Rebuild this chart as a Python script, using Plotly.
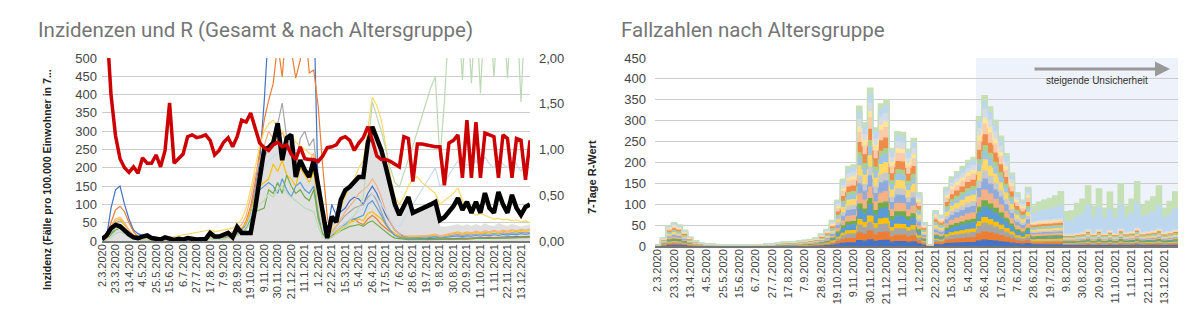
import plotly.graph_objects as go

# ---------------- data ----------------
week_labels = ["2.3.2020","23.3.2020","13.4.2020","4.5.2020","25.5.2020","15.6.2020","6.7.2020","27.7.2020",
               "17.8.2020","7.9.2020","28.9.2020","19.10.2020","9.11.2020","30.11.2020","21.12.2020","11.1.2021",
               "1.2.2021","22.2.2021","15.3.2021","5.4.2021","26.4.2021","17.5.2021","7.6.2021","28.6.2021",
               "19.7.2021","9.8.2021","30.8.2021","20.9.2021","11.10.2021","1.11.2021","22.11.2021","13.12.2021"]
n_weeks = 96
weeks = list(range(n_weeks))

# Left chart: total incidence (black), R value (red), grey area, age-group incidences
inc_total = [5,15,35,44,40,28,18,10,8,
             12,15,8,5,4,10,5,3,6,4,8,5,4,5,5,22,12,12,18,22,10,
             38,22,22,22,90,170,250,255,268,322,221,281,290,175,221,194,175,221,150,
             70,8,66,
             52,112,139,148,160,175,175,268,312,284,249,202,148,
             100,71,93,120,77,82,88,93,100,107,57,65,80,95,117,85,107,77,107,77,131,90,77,134,100,77,126,90,71,93,100]
inc_area = [5,15,35,44,40,28,18,10,8,
            12,15,8,5,4,10,5,3,6,4,8,5,4,5,5,22,12,12,18,22,10,
            38,22,22,22,90,170,250,255,268,322,221,281,290,175,221,194,175,221,150,
            70,8,66,
            52,112,139,148,160,175,175,268,312,284,249,202,148,
            100,71,93,120,77,82,88,93,100,107,40,38,40,42,45,40,45,40,45,40,48,42,40,48,44,40,46,42,38,42,44]
r_value = [4.0,2.4,1.6,1.15,0.9,0.8,0.75,0.81,0.74,
           0.91,0.85,0.85,0.94,0.81,0.99,1.51,0.85,0.9,0.95,1.14,1.16,1.13,1.14,1.16,1.1,0.94,0.99,1.08,1.13,1.03,
           1.14,1.32,1.3,1.4,1.25,1.07,1.02,0.99,1.05,1.08,1.03,1.05,0.95,0.89,1.03,0.9,0.89,0.89,0.87,
           0.93,1.02,1.03,
           1.05,1.12,1.14,1.1,0.99,1.07,1.13,1.25,1.1,0.93,0.89,0.89,0.87,
           0.84,0.81,1.14,1.12,0.65,1.06,1.06,1.05,1.04,1.03,1.03,0.61,1.07,1.1,1.16,0.69,1.32,0.69,1.3,0.69,1.18,1.16,1.14,0.69,1.16,1.12,0.69,1.12,1.1,0.67,1.1]

inc_a = [0,10,90,140,150,100,60,30,20,
         15,10,8,5,4,3,3,2,2,3,3,2,2,3,4,6,5,6,8,10,12,
         20,30,45,80,140,220,380,700,800,850,900,800,750,850,700,800,750,650,120,
         30,20,100,
         70,80,90,110,120,115,100,130,150,130,100,70,50,
         30,20,12,10,8,8,7,6,6,6,5,5,6,6,7,8,7,8,9,8,9,10,9,10,11,10,11,12,11,12,13]
inc_b = [0,10,50,85,95,80,50,25,12,
         10,8,6,5,4,3,3,3,3,4,4,3,3,4,5,8,7,8,10,12,14,
         22,32,55,95,160,250,330,385,430,540,448,600,520,445,494,600,459,467,366,
         202,66,10,
         30,40,50,55,60,50,45,60,70,60,45,35,25,
         18,12,8,6,5,5,5,4,4,4,4,4,5,5,6,6,6,7,7,7,8,8,8,9,9,9,10,10,10,11,11]
inc_c = [0,5,30,50,55,45,30,15,8,
         6,5,4,3,3,2,2,2,2,3,3,2,2,3,4,6,5,6,7,9,12,
         20,28,45,80,140,200,230,250,280,320,377,280,250,200,280,300,260,280,150,
         40,5,25,
         40,55,70,80,90,95,100,120,130,110,80,50,30,
         18,12,10,10,9,10,11,10,12,14,10,11,14,16,18,15,18,16,19,17,20,18,21,19,22,20,23,21,24,22,24]
inc_d = [0,5,35,55,60,45,28,14,7,
         6,5,5,4,3,3,3,3,4,5,5,4,4,5,8,12,10,12,14,16,18,
         28,36,50,80,120,150,160,170,210,190,220,180,170,150,200,180,160,190,80,
         20,5,15,
         25,35,40,50,55,60,55,75,80,70,60,45,30,
         20,12,10,10,12,12,14,14,15,16,14,14,18,20,22,18,22,20,24,20,24,22,26,22,27,24,28,25,29,26,30]
inc_e = [0,3,20,40,45,35,22,10,5,
         4,3,3,2,2,2,2,2,2,2,2,2,2,3,4,6,5,6,7,9,11,
         18,25,40,70,110,140,150,160,150,130,170,140,120,150,160,140,130,150,70,
         20,5,20,
         30,40,45,60,60,65,70,100,110,90,70,45,28,
         15,10,8,8,7,8,9,8,10,11,8,9,11,13,14,12,14,13,15,13,16,14,17,15,18,16,19,17,20,18,20]
inc_f = [0,3,18,30,35,28,18,8,4,
         3,3,2,2,2,2,2,2,2,2,2,2,2,2,3,5,4,5,6,8,10,
         16,22,35,60,80,85,90,140,130,160,130,180,150,130,140,120,110,140,60,
         20,5,15,
         20,28,35,40,42,45,40,50,55,45,35,25,15,
         8,6,5,4,4,4,4,4,4,5,4,5,5,6,6,5,6,6,7,6,7,7,8,7,8,8,9,8,9,9,10]
inc_g = [0,5,40,60,65,50,30,15,8,
         7,6,5,4,4,3,3,3,4,5,5,4,5,6,8,12,10,14,18,22,25,
         35,45,70,120,180,220,260,300,280,270,300,260,250,240,250,230,220,240,110,
         30,5,25,
         40,60,80,95,110,130,140,150,170,150,120,80,50,
         30,20,15,14,14,15,16,15,17,19,14,16,19,22,25,21,25,22,27,23,28,25,29,26,30,27,31,28,32,29,33]
inc_h = [0,3,25,40,45,35,22,10,5,
         5,5,6,6,7,8,10,12,14,16,18,20,22,24,28,30,25,28,30,32,35,
         45,60,90,140,200,260,300,320,330,310,300,280,290,270,260,250,240,230,120,
         40,10,30,
         60,90,120,150,170,200,220,300,393,370,330,260,180,
         120,100,120,150,170,175,160,150,140,130,100,110,120,130,145,110,90,80,70,75,70,65,60,62,58,60,55,58,52,55,50]
inc_i = [0,2,10,20,25,20,12,6,3,
         3,3,2,2,2,2,2,2,2,2,2,2,2,3,4,5,4,5,6,8,10,
         15,20,30,50,80,100,110,130,120,140,150,130,120,110,100,90,85,80,40,
         10,3,10,
         20,30,40,55,70,90,120,250,380,340,300,250,200,
         160,148,185,220,260,300,340,380,420,448,221,380,600,650,650,440,650,431,650,404,650,650,448,650,650,445,650,650,380,650,650]
inc_j = [0,2,12,22,25,20,12,6,3,
         3,3,2,2,2,2,2,2,2,2,2,2,2,3,4,5,4,5,6,8,10,
         15,25,40,70,110,150,200,220,230,240,250,240,230,250,240,230,220,210,100,
         30,5,20,
         30,40,50,60,70,80,90,110,130,120,100,80,60,
         45,40,60,80,100,120,140,160,180,200,150,160,180,200,220,190,210,200,220,200,230,210,200,230,210,200,230,210,190,220,230]

age_lines = [inc_a, inc_b, inc_c, inc_d, inc_e, inc_f, inc_g, inc_h, inc_j, inc_i]
line_colors = ["#4472C4", "#ED7D31", "#A5A5A5", "#FFC000", "#5B9BD5", "#70AD47",
               "#F4B183", "#FFD966", "#C9DBEE", "#BCD9B4"]

# Right chart: weekly case counts per age group (stacked, bottom to top)
g01 = [0.1,0.8,1.9,2.2,2,1.5,0.8,0.5,0.3,0.2,0.2,0.1,0.1,0.1,0.1,0.1,0.1,0.1,0.1,0.1,0.2,0.2,0.3,0.4,0.4,0.4,0.5,0.6,0.6,0.8,1.1,1.5,2.4,4.3,6.2,7.4,7.6,13,11.5,14.7,11,13.2,13.6,9.1,10.6,10.6,9,10,5,2.2,0.1,3.3,2.9,5.5,6.4,6.9,7.4,8,8.3,12,14,13,11.7,10.2,8.6,6.8,5,4.3,5.5,
       2.5,2.6,2.7,2.7,2.8,2.8,1.2,1.2,1.3,1.4,1.7,1.3,1.7,1.3,1.6,1.3,1.8,1.4,1.5,1.9,1.4,1.5,1.6,1.8,1.4,1.5,1.7]
g02 = [0.2,1.1,2.7,3.1,2.8,2.1,1.2,0.7,0.4,0.3,0.3,0.2,0.2,0.2,0.2,0.2,0.2,0.2,0.2,0.2,0.3,0.3,0.4,0.5,0.6,0.6,0.7,0.8,0.9,1.1,1.6,2.2,3.4,6.1,8.9,10.6,10.8,18.6,16.4,21,15.7,18.9,19.4,13,15.2,15.1,12.9,14.3,7.1,3.1,0.2,4.7,4.1,7.8,9.2,9.9,10.6,11.4,11.8,17.2,20,18.5,16.7,14.6,12.3,9.7,7.1,6.1,7.8,
       4.8,5,5.1,5.2,5.3,5.4,2.4,2.4,2.6,2.8,3.3,2.6,3.3,2.6,3.2,2.6,3.5,2.8,3,3.7,2.8,3,3.2,3.5,2.8,3,3.3]
g03 = [0.2,1.1,2.7,3.1,2.8,2.1,1.2,0.7,0.4,0.3,0.3,0.2,0.2,0.2,0.2,0.2,0.2,0.2,0.2,0.2,0.3,0.3,0.4,0.5,0.6,0.6,0.7,0.8,0.9,1.1,1.6,2.2,3.4,6.1,8.9,10.6,10.8,18.6,16.4,21,15.7,18.9,19.4,13,15.2,15.1,12.9,14.3,7.1,3.1,0.2,4.7,4.1,7.8,9.2,9.9,10.6,11.4,11.8,17.2,20,18.5,16.7,14.6,12.3,9.7,7.1,6.1,7.8,
       2.5,2.6,2.7,2.7,2.8,2.8,1.2,1.2,1.3,1.4,1.7,1.3,1.7,1.3,1.6,1.3,1.8,1.4,1.5,1.9,1.4,1.5,1.6,1.8,1.4,1.5,1.7]
g04 = [0.1,0.8,1.9,2.2,2,1.5,0.8,0.5,0.3,0.2,0.2,0.1,0.1,0.1,0.1,0.1,0.1,0.1,0.1,0.1,0.2,0.2,0.3,0.4,0.4,0.4,0.5,0.6,0.6,0.8,1.1,1.5,2.4,4.3,6.2,7.4,7.6,13,11.5,14.7,11,13.2,13.6,9.1,10.6,10.6,9,10,5,2.2,0.1,3.3,2.9,5.5,6.4,6.9,7.4,8,8.3,12,14,13,11.7,10.2,8.6,6.8,5,4.3,5.5,
       4.8,5,5.1,5.2,5.3,5.4,2.4,2.4,2.6,2.8,3.3,2.6,3.3,2.6,3.2,2.6,3.5,2.8,3,3.7,2.8,3,3.2,3.5,2.8,3,3.3]
g05 = [0.3,1.4,3.5,4,3.6,2.7,1.6,0.9,0.5,0.4,0.4,0.3,0.2,0.2,0.2,0.2,0.2,0.2,0.3,0.3,0.4,0.4,0.5,0.7,0.8,0.8,0.9,1,1.2,1.4,2.1,2.9,4.4,7.9,11.6,13.8,14,24.2,21.3,27.3,20.4,24.6,25.2,16.9,19.8,19.6,16.8,18.6,9.2,4,0.3,6.1,5.3,10.1,12,12.9,13.8,14.8,15.3,22.4,26,24,21.7,19,16,12.6,9.2,7.9,10.1,
       3.5,3.7,3.8,3.8,3.9,4,1.7,1.7,1.8,1.9,2.3,1.8,2.3,1.8,2.2,1.8,2.4,1.9,2,2.5,1.9,2,2.1,2.4,1.9,2.1,2.3]
g06 = [0.1,0.8,1.9,2.2,2,1.5,0.8,0.5,0.3,0.2,0.2,0.1,0.1,0.1,0.1,0.1,0.1,0.1,0.1,0.1,0.2,0.2,0.3,0.4,0.4,0.4,0.5,0.6,0.6,0.8,1.1,1.5,2.4,4.3,6.2,7.4,7.6,13,11.5,14.7,11,13.2,13.6,9.1,10.6,10.6,9,10,5,2.2,0.1,3.3,2.9,5.5,6.4,6.9,7.4,8,8.3,12,14,13,11.7,10.2,8.6,6.8,5,4.3,5.5,
       3.5,3.7,3.8,3.8,3.9,4,1.7,1.7,1.8,1.9,2.3,1.8,2.3,1.8,2.2,1.8,2.4,1.9,2,2.5,1.9,2,2.1,2.4,1.9,2.1,2.3]
g07 = [0.3,1.4,3.5,4,3.6,2.7,1.6,0.9,0.5,0.4,0.4,0.3,0.2,0.2,0.2,0.2,0.2,0.2,0.3,0.3,0.4,0.4,0.5,0.7,0.8,0.8,0.9,1,1.2,1.4,2.1,2.9,4.4,7.9,11.6,13.8,14,24.2,21.3,27.3,20.4,24.6,25.2,16.9,19.8,19.6,16.8,18.6,9.2,4,0.3,6.1,5.3,10.1,12,12.9,13.8,14.8,15.3,22.4,26,24,21.7,19,16,12.6,9.2,7.9,10.1,
       4.8,5,5.1,5.2,5.3,5.4,2.4,2.4,2.6,2.8,3.3,2.6,3.3,2.6,3.2,2.6,3.5,2.8,3,3.7,2.8,3,3.2,3.5,2.8,3,3.3]
g08 = [0.3,1.4,3.5,4,3.6,2.7,1.6,0.9,0.5,0.4,0.4,0.3,0.2,0.2,0.2,0.2,0.2,0.2,0.3,0.3,0.4,0.4,0.5,0.7,0.8,0.8,0.9,1,1.2,1.4,2.1,2.9,4.4,7.9,11.6,13.8,14,24.2,21.3,27.3,20.4,24.6,25.2,16.9,19.8,19.6,16.8,18.6,9.2,4,0.3,6.1,5.3,10.1,12,12.9,13.8,14.8,15.3,22.4,26,24,21.7,19,16,12.6,9.2,7.9,10.1,
       3.5,3.7,3.8,3.8,3.9,4,1.7,1.7,1.8,1.9,2.3,1.8,2.3,1.8,2.2,1.8,2.4,1.9,2,2.5,1.9,2,2.1,2.4,1.9,2.1,2.3]
g09 = [0.2,1.1,2.7,3.1,2.8,2.1,1.2,0.7,0.4,0.3,0.3,0.2,0.2,0.2,0.2,0.2,0.2,0.2,0.2,0.2,0.3,0.3,0.4,0.5,0.6,0.6,0.7,0.8,0.9,1.1,1.6,2.2,3.4,6.1,8.9,10.6,10.8,18.6,16.4,21,15.7,18.9,19.4,13,15.2,15.1,12.9,14.3,7.1,3.1,0.2,4.7,4.1,7.8,9.2,9.9,10.6,11.4,11.8,17.2,20,18.5,16.7,14.6,12.3,9.7,7.1,6.1,7.8,
       2.5,2.6,2.7,2.7,2.8,2.8,1.2,1.2,1.3,1.4,1.7,1.3,1.7,1.3,1.6,1.3,1.8,1.4,1.5,1.9,1.4,1.5,1.6,1.8,1.4,1.5,1.7]
g10 = [0.3,1.4,3.5,4,3.6,2.7,1.6,0.9,0.5,0.4,0.4,0.3,0.2,0.2,0.2,0.2,0.2,0.2,0.3,0.3,0.4,0.4,0.5,0.7,0.8,0.8,0.9,1,1.2,1.4,2.1,2.9,4.4,7.9,11.6,13.8,14,24.2,21.3,27.3,20.4,24.6,25.2,16.9,19.8,19.6,16.8,18.6,9.2,4,0.3,6.1,5.3,10.1,12,12.9,13.8,14.8,15.3,22.4,26,24,21.7,19,16,12.6,9.2,7.9,10.1,
       4.8,5,5.1,5.2,5.3,5.4,2.4,2.4,2.6,2.8,3.3,2.6,3.3,2.6,3.2,2.6,3.5,2.8,3,3.7,2.8,3,3.2,3.5,2.8,3,3.3]
g11 = [0.2,1.1,2.7,3.1,2.8,2.1,1.2,0.7,0.4,0.3,0.3,0.2,0.2,0.2,0.2,0.2,0.2,0.2,0.2,0.2,0.3,0.3,0.4,0.5,0.6,0.6,0.7,0.8,0.9,1.1,1.6,2.2,3.4,6.1,8.9,10.6,10.8,18.6,16.4,21,15.7,18.9,19.4,13,15.2,15.1,12.9,14.3,7.1,3.1,0.2,4.7,4.1,7.8,9.2,9.9,10.6,11.4,11.8,17.2,20,18.5,16.7,14.6,12.3,9.7,7.1,6.1,7.8,
       3.5,3.7,3.8,3.8,3.9,4,1.7,1.7,1.8,1.9,2.3,1.8,2.3,1.8,2.2,1.8,2.4,1.9,2,2.5,1.9,2,2.1,2.4,1.9,2.1,2.3]
g12 = [0.1,0.8,1.9,2.2,2,1.5,0.8,0.5,0.3,0.2,0.2,0.1,0.1,0.1,0.1,0.1,0.1,0.1,0.1,0.1,0.2,0.2,0.3,0.4,0.4,0.4,0.5,0.6,0.6,0.8,1.1,1.5,2.4,4.3,6.2,7.4,7.6,13,11.5,14.7,11,13.2,13.6,9.1,10.6,10.6,9,10,5,2.2,0.1,3.3,2.9,5.5,6.4,6.9,7.4,8,8.3,12,14,13,11.7,10.2,8.6,6.8,5,4.3,5.5,
       2.5,2.6,2.7,2.7,2.8,2.8,1.2,1.2,1.3,1.4,1.7,1.3,1.7,1.3,1.6,1.3,1.8,1.4,1.5,1.9,1.4,1.5,1.6,1.8,1.4,1.5,1.7]
g13 = [0.3,1.4,3.5,4,3.6,2.7,1.6,0.9,0.5,0.4,0.4,0.3,0.2,0.2,0.2,0.2,0.2,0.2,0.3,0.3,0.4,0.4,0.5,0.7,0.8,0.8,0.9,1,1.2,1.4,2.1,2.9,4.4,7.9,11.6,13.8,14,24.2,21.3,27.3,20.4,24.6,25.2,16.9,19.8,19.6,16.8,18.6,9.2,4,0.3,6.1,5.3,10.1,12,12.9,13.8,14.8,15.3,22.4,26,24,21.7,19,16,12.6,9.2,7.9,10.1,
       4.8,5,5.1,5.2,5.3,5.4,2.4,2.4,2.6,2.8,3.3,2.6,3.3,2.6,3.2,2.6,3.5,2.8,3,3.7,2.8,3,3.2,3.5,2.8,3,3.3]
g14 = [0.3,1.4,3.5,4,3.6,2.7,1.6,0.9,0.5,0.4,0.4,0.3,0.2,0.2,0.2,0.2,0.2,0.2,0.3,0.3,0.4,0.4,0.5,0.7,0.8,0.8,0.9,1,1.2,1.4,2.1,2.9,4.4,7.9,11.6,13.8,14,24.2,21.3,27.3,20.4,24.6,25.2,16.9,19.8,19.6,16.8,18.6,9.2,4,0.3,6.1,5.3,10.1,12,12.9,13.8,14.8,15.3,22.4,26,24,21.7,19,16,12.6,9.2,7.9,10.1,
       3.5,3.7,3.8,3.8,3.9,4,1.7,1.7,1.8,1.9,2.3,1.8,2.3,1.8,2.2,1.8,2.4,1.9,2,2.5,1.9,2,2.1,2.4,1.9,2.1,2.3]
g15 = [0.1,0.8,1.9,2.2,2,1.5,0.8,0.5,0.3,0.2,0.2,0.1,0.1,0.1,0.1,0.1,0.1,0.1,0.1,0.1,0.2,0.2,0.3,0.4,0.4,0.4,0.5,0.6,0.6,0.8,1.1,1.5,2.4,4.3,6.2,7.4,7.6,13,11.5,14.7,11,13.2,13.6,9.1,10.6,10.6,9,10,5,2.2,0.1,3.3,2.9,5.5,6.4,6.9,7.4,8,8.3,12,14,13,11.7,10.2,8.6,6.8,5,4.3,5.5,
       2.5,2.6,2.7,2.7,2.8,2.8,1.2,1.2,1.3,1.4,1.7,1.3,1.7,1.3,1.6,1.3,1.8,1.4,1.5,1.9,1.4,1.5,1.6,1.8,1.4,1.5,1.7]
g16 = [0.2,1.1,2.7,3.1,2.8,2.1,1.2,0.7,0.4,0.3,0.3,0.2,0.2,0.2,0.2,0.2,0.2,0.2,0.2,0.2,0.3,0.3,0.4,0.5,0.6,0.6,0.7,0.8,0.9,1.1,1.6,2.2,3.4,6.1,8.9,10.6,10.8,18.6,16.4,21,15.7,18.9,19.4,13,15.2,15.1,12.9,14.3,7.1,3.1,0.2,4.7,4.1,7.8,9.2,9.9,10.6,11.4,11.8,17.2,20,18.5,16.7,14.6,12.3,9.7,7.1,6.1,7.8,
       3.5,3.7,3.8,3.8,3.9,4,1.7,1.7,1.8,1.9,2.3,1.8,2.3,1.8,2.2,1.8,2.4,1.9,2,2.5,1.9,2,2.1,2.4,1.9,2.1,2.3]
g17 = [0.2,1.1,2.7,3.1,2.8,2.1,1.2,0.7,0.4,0.3,0.3,0.2,0.2,0.2,0.2,0.2,0.2,0.2,0.2,0.2,0.3,0.3,0.4,0.5,0.6,0.6,0.7,0.8,0.9,1.1,1.6,2.2,3.4,6.1,8.9,10.6,10.8,18.6,16.4,21,15.7,18.9,19.4,13,15.2,15.1,12.9,14.3,7.1,3.1,0.2,4.7,4.1,7.8,9.2,9.9,10.6,11.4,11.8,17.2,20,18.5,16.7,14.6,12.3,9.7,7.1,6.1,7.8,
       20,23,24,26,28,32,30,31,40,44,58,38,54,35,50,35,58,36,43,60,37,40,45,55,33,40,50]
g18 = [0.1,0.8,1.9,2.2,2,1.5,0.8,0.5,0.3,0.2,0.2,0.1,0.1,0.1,0.1,0.1,0.1,0.1,0.1,0.1,0.2,0.2,0.3,0.4,0.4,0.4,0.5,0.6,0.6,0.8,1.1,1.5,2.4,4.3,6.2,7.4,7.6,13,11.5,14.7,11,13.2,13.6,9.1,10.6,10.6,9,10,5,2.2,0.1,3.3,2.9,5.5,6.4,6.9,7.4,8,8.3,12,14,13,11.7,10.2,8.6,6.8,5,4.3,5.5,
       18,22,24,26,28,33,24,25,32,36,47,27,44,25,42,25,50,27,35,51,28,33,36,48,25,32,41]

groups = [g01, g02, g03, g04, g05, g06, g07, g08, g09, g10, g11, g12, g13, g14, g15, g16, g17, g18]
group_colors = ["#4472C4", "#ED7D31", "#A5A5A5", "#FFC000", "#5B9BD5", "#70AD47",
                "#F4B183", "#8FAADC", "#C9C9C9", "#FFD966", "#9DC3E6", "#A9D18E",
                "#F08C4A", "#F8CBAD", "#FFE699", "#D6DCE5", "#BDD7EE", "#C5E0B4"]

for s in [inc_total, inc_area, r_value] + age_lines + groups:
    assert len(s) == n_weeks, len(s)

# ---------------- figure ----------------
W, H = 1200, 322
def px(x):
    return x / W
def py(y):
    return (H - y) / H

fig = go.Figure()

# left chart
fig.add_trace(go.Scatter(x=weeks, y=inc_area, mode="lines", fill="tozeroy",
                         fillcolor="#e0e0e0", line=dict(color="#d8d8d8", width=0.5),
                         xaxis="x", yaxis="y", showlegend=False, hoverinfo="skip"))
for ser, col in zip(age_lines, line_colors):
    fig.add_trace(go.Scatter(x=weeks, y=ser, mode="lines", line=dict(color=col, width=1.2),
                             xaxis="x", yaxis="y", showlegend=False))
fig.add_trace(go.Scatter(x=weeks, y=r_value, mode="lines", line=dict(color="#CC0000", width=3.5),
                         xaxis="x", yaxis="y2", showlegend=False))
fig.add_trace(go.Scatter(x=weeks, y=inc_total, mode="lines", line=dict(color="#000000", width=4.5),
                         xaxis="x", yaxis="y", showlegend=False))

# right chart: stepped stacked area (each week spans a full band)
band_edges = [w - 0.5 for w in weeks] + [n_weeks - 0.5]
for ser, col in zip(groups, group_colors):
    fig.add_trace(go.Scatter(x=band_edges, y=list(ser) + [ser[-1]], mode="lines",
                             stackgroup="cases", fillcolor=col,
                             line=dict(color=col, width=1.2, shape="hv"),
                             xaxis="x2", yaxis="y3", showlegend=False))

tick_pos = list(range(0, n_weeks, 3))[:len(week_labels)]
tickfont_x = dict(family="Liberation Sans, Arial", size=11, color="#444444")
tickfont_y = dict(family="Liberation Sans, Arial", size=13, color="#444444")

fig.update_layout(
    template="none",
    width=W, height=H,
    margin=dict(l=0, r=0, t=0, b=0),
    paper_bgcolor="white", plot_bgcolor="white",
    separators=",.",
    showlegend=False,
    xaxis=dict(domain=[px(102), px(530)], range=[0, 95], tickmode="array", tickvals=tick_pos,
               ticktext=week_labels, tickangle=-90, tickfont=tickfont_x, showgrid=False,
               zeroline=False, showline=False, ticks="", anchor="y", automargin=False),
    yaxis=dict(domain=[py(241), py(58)], range=[0, 500], dtick=50, tickfont=tickfont_y,
               gridcolor="#cccccc", gridwidth=1, zeroline=True, zerolinecolor="#777777",
               zerolinewidth=3, showline=False, ticks="", anchor="x", automargin=False,
               ticklabelstandoff=4),
    yaxis2=dict(overlaying="y", side="right", range=[0, 2], dtick=0.5, tickformat=".2f",
                tickfont=tickfont_y, showgrid=False, zeroline=False, showline=False, ticks="",
                anchor="x", automargin=False, ticklabelstandoff=8),
    xaxis2=dict(domain=[px(655), px(1178)], range=[-0.5, 95.5], tickmode="array", tickvals=tick_pos,
                ticktext=week_labels, tickangle=-90, tickfont=tickfont_x, showgrid=False,
                zeroline=False, showline=False, ticks="", anchor="y3", automargin=False),
    yaxis3=dict(domain=[py(246), py(58)], range=[0, 450], dtick=50, tickfont=tickfont_y,
                gridcolor="#cccccc", gridwidth=1, zeroline=True, zerolinecolor="#777777",
                zerolinewidth=3, showline=False, ticks="", anchor="x2", automargin=False,
                ticklabelstandoff=8),
    shapes=[dict(type="rect", xref="x2", yref="y3", x0=58.4, x1=95.5, y0=0, y1=450,
                 fillcolor="#EEF2FA", line=dict(width=0), layer="below")],
    annotations=[
        dict(text="Inzidenzen und R (Gesamt &amp; nach Altersgruppe)", xref="paper", yref="paper",
             x=px(36), y=py(30), xanchor="left", yanchor="middle", showarrow=False,
             font=dict(family="Roboto", size=20.5, color="#757575")),
        dict(text="Fallzahlen nach Altersgruppe", xref="paper", yref="paper",
             x=px(619), y=py(30), xanchor="left", yanchor="middle", showarrow=False,
             font=dict(family="Roboto", size=20.5, color="#757575")),
        dict(text="<b>Inzidenz (Fälle pro 100.000 Einwohner in 7...</b>", xref="paper", yref="paper",
             x=px(47), y=py(180), xanchor="center", yanchor="middle", textangle=-90, showarrow=False,
             font=dict(family="Liberation Sans, Arial", size=10.6, color="#222222")),
        dict(text="<b>7-Tage R-Wert</b>", xref="paper", yref="paper",
             x=px(592), y=py(177), xanchor="center", yanchor="middle", textangle=-90, showarrow=False,
             font=dict(family="Liberation Sans, Arial", size=11, color="#222222")),
        dict(text="", xref="paper", yref="paper", x=px(1170), y=py(69), ax=-137, ay=0,
             showarrow=True, arrowhead=2, arrowsize=1, arrowwidth=3, arrowcolor="#999999"),
        dict(text="steigende Unsicherheit", xref="paper", yref="paper",
             x=px(1097), y=py(81), xanchor="center", yanchor="middle", showarrow=False,
             font=dict(family="Liberation Sans, Arial", size=10, color="#333333")),
    ],
)

fig.write_html("out.html")
